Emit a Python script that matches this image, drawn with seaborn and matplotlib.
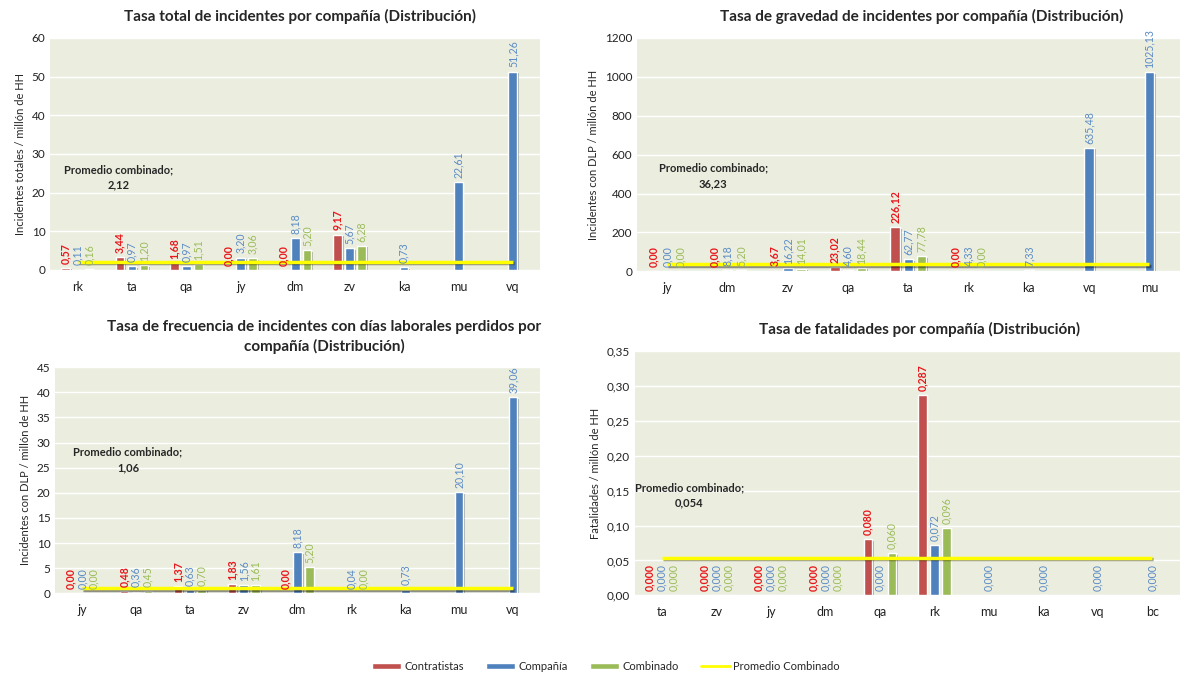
import numpy as np
import pandas as pd
import matplotlib
matplotlib.use("Agg")
import matplotlib.pyplot as plt
import matplotlib.patheffects as pe
from matplotlib.patches import Patch
from matplotlib.lines import Line2D
from matplotlib.ticker import FuncFormatter, MultipleLocator
import seaborn as sns

nan = np.nan
series = ["Contratistas", "Compañía", "Combinado"]

# Tasa total de incidentes
total_cats = ["rk", "ta", "qa", "jy", "dm", "zv", "ka", "mu", "vq"]
total_contr = [0.57, 3.44, 1.68, 0.00, 0.00, 9.17, nan, nan, nan]
total_comp = [0.11, 0.97, 0.97, 3.20, 8.18, 5.67, 0.73, 22.61, 51.26]
total_comb = [0.16, 1.20, 1.51, 3.06, 5.20, 6.28, nan, nan, nan]
total_avg = 2.12

# Tasa de gravedad
grav_cats = ["jy", "dm", "zv", "qa", "ta", "rk", "ka", "vq", "mu"]
grav_contr = [0.00, 0.00, 3.67, 23.02, 226.12, 0.00, nan, nan, nan]
grav_comp = [0.00, 8.18, 16.22, 4.60, 62.77, 4.33, 7.33, 635.48, 1025.13]
grav_comb = [0.00, 5.20, 14.01, 18.44, 77.78, 0.00, nan, nan, nan]
grav_avg = 36.23

# Tasa de frecuencia DLP
frec_cats = ["jy", "qa", "ta", "zv", "dm", "rk", "ka", "mu", "vq"]
frec_contr = [0.00, 0.48, 1.37, 1.83, 0.00, nan, nan, nan, nan]
frec_comp = [0.00, 0.36, 0.63, 1.56, 8.18, 0.04, 0.73, 20.10, 39.06]
frec_comb = [0.00, 0.45, 0.70, 1.61, 5.20, 0.00, nan, nan, nan]
frec_avg = 1.06

# Tasa de fatalidades
fat_cats = ["ta", "zv", "jy", "dm", "qa", "rk", "mu", "ka", "vq", "bc"]
fat_contr = [0.000, 0.000, 0.000, 0.000, 0.080, 0.287, nan, nan, nan, nan]
fat_comp = [0.000, 0.000, 0.000, 0.000, 0.000, 0.072, 0.000, 0.000, 0.000, 0.000]
fat_comb = [0.000, 0.000, 0.000, 0.000, 0.060, 0.096, nan, nan, nan, nan]
fat_avg = 0.054

bar_colors = {"Contratistas": "#C0504D", "Compañía": "#4F81BD", "Combinado": "#9BBB59"}
label_colors = {"Contratistas": "#E8161B", "Compañía": "#5A8AC6", "Combinado": "#9BBB59"}
label_weight = {"Contratistas": "bold", "Compañía": "normal", "Combinado": "normal"}

sns.set_style("white")
plt.rcParams["font.family"] = ["Lato", "DejaVu Sans"]


def coma(v, dec):
    return f"{v:.{dec}f}".replace(".", ",")


def panel(ax, cats, contr, comp, comb, avg, title, title_x, ylabel, ymax, step, dec, tdec, txt_pos):
    df = pd.DataFrame({
        "cat": cats * 3,
        "serie": [s for s in series for _ in cats],
        "valor": contr + comp + comb,
    }).dropna()
    sns.barplot(data=df, x="cat", y="valor", hue="serie", order=cats, hue_order=series,
                palette=bar_colors, saturation=1, width=0.66, gap=0.28, errorbar=None,
                legend=False, ax=ax,
                path_effects=[pe.SimplePatchShadow(offset=(1.2, -1.2), alpha=0.35), pe.Normal()])
    for cont, s in zip(ax.containers, series):
        ax.bar_label(cont, labels=[coma(v, dec) for v in cont.datavalues], rotation=90,
                     padding=3, fontsize=7.6, color=label_colors[s], fontweight=label_weight[s])
    ax.plot([0, len(cats) - 1], [avg, avg], color="#FFFF00", lw=2.5, solid_capstyle="butt",
            path_effects=[pe.SimpleLineShadow(offset=(0.8, -1.2), alpha=0.4), pe.Normal()])
    ax.text(txt_pos[0], txt_pos[1], "Promedio combinado;\n" + coma(avg, dec), transform=ax.transAxes,
            ha="center", va="center", fontsize=8, fontweight="bold", linespacing=1.5)
    ax.set_facecolor("#EBEEDF")
    ax.set_ylim(0, ymax)
    ax.set_xlim(-0.5, len(cats) - 0.5)
    ax.yaxis.set_major_locator(MultipleLocator(step))
    ax.yaxis.set_major_formatter(FuncFormatter(lambda v, p: coma(v, tdec)))
    ax.grid(axis="y", color="white", lw=1)
    ax.set_axisbelow(True)
    for sp in ax.spines.values():
        sp.set_visible(False)
    ax.tick_params(axis="both", length=0, labelsize=8.5, colors="#222222")
    ax.tick_params(axis="x", labelsize=9, pad=8)
    ax.set_xlabel("")
    ax.set_ylabel(ylabel, fontsize=8)
    ax.set_title(title, x=title_x, fontsize=11, fontweight="bold", pad=12, linespacing=1.35)


fig = plt.figure(figsize=(12, 6.75), dpi=100)
ax1 = fig.add_axes([0.042, 0.600, 0.408, 0.344])
ax2 = fig.add_axes([0.531, 0.598, 0.452, 0.346])
ax3 = fig.add_axes([0.046, 0.121, 0.404, 0.335])
ax4 = fig.add_axes([0.529, 0.118, 0.454, 0.362])

panel(ax1, total_cats, total_contr, total_comp, total_comb, total_avg,
      "Tasa total de incidentes por compañía (Distribución)", 0.51,
      "Incidentes totales / millón de HH", 60, 10, 2, 0, (0.14, 0.40))
panel(ax2, grav_cats, grav_contr, grav_comp, grav_comb, grav_avg,
      "Tasa de gravedad de incidentes por compañía (Distribución)", 0.525,
      "Incidentes con DLP / millón de HH", 1200, 200, 2, 0, (0.14, 0.41))
panel(ax3, frec_cats, frec_contr, frec_comp, frec_comb, frec_avg,
      "Tasa de frecuencia de incidentes con días laborales perdidos por\ncompañía (Distribución)", 0.555,
      "Incidentes con DLP / millón de HH", 45, 5, 2, 0, (0.15, 0.59))
panel(ax4, fat_cats, fat_contr, fat_comp, fat_comb, fat_avg,
      "Tasa de fatalidades por compañía (Distribución)", 0.522,
      "Fatalidades / millón de HH", 0.35, 0.05, 3, 2, (0.10, 0.41))

handles = [Patch(facecolor=bar_colors[s], label=s) for s in series]
handles.append(Line2D([0], [0], color="#FFFF00", lw=2, label="Promedio Combinado"))
fig.legend(handles=handles, loc="center", bbox_to_anchor=(0.505, 0.013), ncol=4, frameon=False,
           fontsize=8, handlelength=2.6, handleheight=0.5, columnspacing=2.0, handletextpad=0.3)

fig.savefig("out.png", dpi=100)
